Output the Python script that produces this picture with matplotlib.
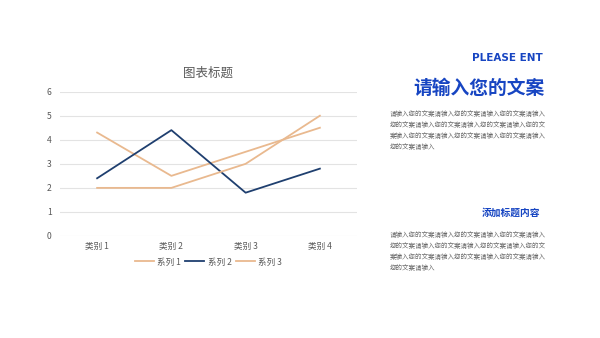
import matplotlib
matplotlib.use("Agg")
import matplotlib.pyplot as plt

plt.rcParams['font.family'] = ['Noto Sans CJK SC', 'DejaVu Sans']

categories = ["类别 1", "类别 2", "类别 3", "类别 4"]
series_names = ["系列 1", "系列 2", "系列 3"]
series_1 = [4.3, 2.5, 3.5, 4.5]
series_2 = [2.4, 4.4, 1.8, 2.8]
series_3 = [2.0, 2.0, 3.0, 5.0]
y_ticks = [0, 1, 2, 3, 4, 5, 6]

tan = "#E9B98F"
navy = "#1F3F6F"
grid_c = "#E3E3E3"
label_c = "#595959"
blue = "#1745C2"
body_c = "#6B6B6B"

fig = plt.figure(figsize=(6.0, 3.38), dpi=100)
ax = fig.add_axes([0.1, 0.3018, 0.495, 0.427])

x = list(range(1, len(categories) + 1))
ax.plot(x, series_1, color=tan, lw=1.3, label=series_names[0])
ax.plot(x, series_2, color=navy, lw=1.3, label=series_names[1])
ax.plot(x, series_3, color=tan, lw=1.3, label=series_names[2])

ax.set_xlim(0.5, len(categories) + 0.5)
ax.set_ylim(0, 6)
ax.set_yticks(y_ticks)
ax.set_yticklabels([str(v) for v in y_ticks])
ax.set_xticks(x)
ax.set_xticklabels(categories)
ax.tick_params(length=0, labelsize=6.2, colors=label_c, pad=6)
ax.tick_params(axis='x', pad=4)
for s in ax.spines.values():
    s.set_visible(False)
ax.grid(axis='y', color=grid_c, lw=0.8)
ax.set_axisbelow(True)

ax.set_title("图表标题", fontsize=9, color=label_c, pad=11)

leg = ax.legend(loc='upper center', bbox_to_anchor=(0.5, -0.095), ncol=3,
                frameon=False, fontsize=6.2, handlelength=2.2,
                handletextpad=0.4, columnspacing=0.5)
for t in leg.get_texts():
    t.set_color(label_c)

# right-hand text panel
fig.text(543 / 600, 1 - 58 / 338, "PLEASE ENT", ha='right', va='center',
         fontsize=7.5, fontweight='bold', color=blue, family=['DejaVu Sans'])
fig.text(545 / 600, 1 - 88 / 338, "请输入您的文案", ha='right', va='center',
         fontsize=13.5, fontweight='bold', color=blue)

body_lines = [
    "请输入您的文案请输入您的文案请输入您的文案请输入",
    "您的文案请输入您的文案请输入您的文案请输入您的文",
    "案输入您的文案请输入您的文案请输入您的文案请输入",
    "您的文案请输入",
]
for i, line in enumerate(body_lines):
    fig.text(390 / 600, 1 - (114 + 11 * i) / 338, line, ha='left', va='center',
             fontsize=4.7, color=body_c)

fig.text(540 / 600, 1 - 213 / 338, "添加标题内容", ha='right', va='center',
         fontsize=7, fontweight='bold', color=blue)
for i, line in enumerate(body_lines):
    fig.text(390 / 600, 1 - (235 + 11 * i) / 338, line, ha='left', va='center',
             fontsize=4.7, color=body_c)

fig.savefig("out.png", dpi=100, facecolor='white')
